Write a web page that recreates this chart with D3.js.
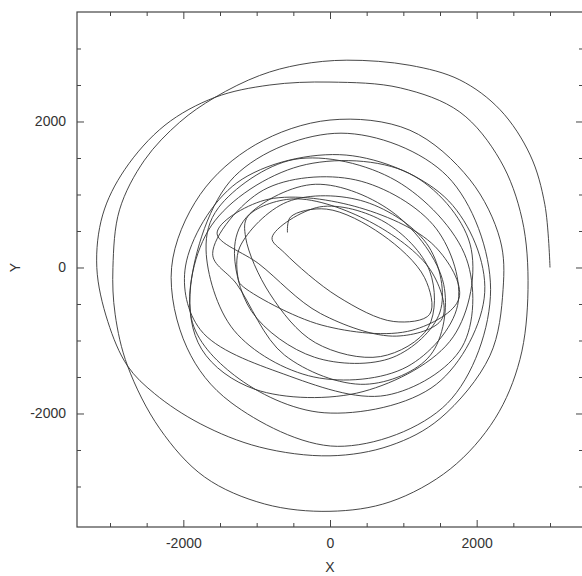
<!DOCTYPE html>
<html>
<head>
<meta charset="utf-8">
<script src="https://cdn.jsdelivr.net/npm/d3@7/dist/d3.min.js"></script>
<style>
  body { margin: 0; background: #fff; }
  svg { display: block; font-family: "Liberation Sans", Arial, sans-serif; }
</style>
</head>
<body>
<div id="chart"></div>
<script>
// orbit positions, in order along the path (inner loops first, ends at x=3000)
const orbitX = [
  -580, -540, -50, 710, 1290, 1360, 870, 110, -620,
  -790, -140, 750, 1360, 1340, 690, -200, -820,
  -1150, -1120, -500, 540, 1380, 1530, 910, -130, -970,
  -1540, -900, 330, 1430, 1760, 1120, -110, -1210,
  -1250, -1230, -580, 480, 1350, 1500, 860, -210, -1070,
  -1300, -1100, -200, 890, 1550, 1370, 480, -620, -1270,
  -1600, -910, 350, 1450, 1740, 1050, -220, -1310,
  -1690, -1520, -490, 900, 1860, 1800, 770, -630, -1770,
  -1970, -1270, 220, 1620, 2110, 1450, -80, -1300,
  -1890, -1620, -410, 1080, 1910, 1680, 450, -1020,
  -1750, -1900, -1300, 150, 1600, 2190, 1600, 100, -1350,
  -1950, -2160, -1770, -1020, 0, 1090, 1910, 2320, 2360, 2180, 1500, 820, 0,
  -960, -1770, -2390, -2760, -3030, -3180,
  -3100, -2800, -2250, -1570, -820, 0, 960, 1770, 2320, 2620, 2700, 2590, 2250, 1640, 820, 0,
  -890, -1710, -2320, -2760, -2930, -2960,
  -2870, -2530, -2050, -1570, -960, -410, 230, 1090, 1770, 2320, 2730, 2930, 3000
];
const orbitY = [
  480, 690, 800, 450, -140, -640, -740, -400, 200,
  410, 830, 620, -50, -820, -1220, -1030, -360,
  410, 700, 940, 630, -50, -700, -940, -630, 50,
  470, 920, 840, 290, -420, -860, -790, -240,
  -160, 280, 900, 900, 280, -610, -1230, -1230, -600,
  290, 730, 1140, 730, -230, -1200, -1600, -1200, -230,
  190, 1060, 1200, 530, -520, -1360, -1500, -860,
  240, 820, 1480, 1190, 120, -1090, -1750, -1460, -850,
  20, 1160, 1540, 910, -340, -1600, -1990, -1480,
  -700, 570, 1390, 1290, 320, -950, -1700, -1670,
  -1120, -250, 1250, 1840, 1250, -300, -1860, -2450, -1850,
  -1100, 0, 1000, 1680, 2020, 1880, 1200, 380, -300, -1210, -2070, -2440, -2580,
  -2460, -2140, -1730, -1350, -740, 0,
  720, 1340, 1950, 2330, 2500, 2540, 2460, 2130, 1470, 660, -300, -1260, -2070, -2760, -3210, -3340,
  -3240, -2870, -2210, -1350, -640, 0,
  790, 1470, 1990, 2330, 2630, 2780, 2840, 2770, 2570, 2160, 1540, 860, 0
];

const labelTicks = [-2000, 0, 2000];
const minorTicks = [-3000, -2500, -1500, -1000, -500, 500, 1000, 1500, 2500, 3000];

const xLabel = 'X';
const yLabel = 'Y';

const width = 582, height = 576;
const frame = { left: 77, right: 583, top: 12, bottom: 527 };

const svg = d3.select('#chart').append('svg')
  .attr('width', width)
  .attr('height', height);

const x = d3.scaleLinear()
  .domain([-3450, 3450])
  .range([frame.left, frame.right]);

const y = d3.scaleLinear()
  .domain([-3555, 3500])
  .range([frame.bottom, frame.top]);

// axes: ticks point into the box on all four sides
function addAxis(axisFn, transform, values, size, labels) {
  const g = svg.append('g')
    .attr('transform', transform)
    .call(axisFn
      .tickValues(values)
      .tickSize(-size)
      .tickSizeOuter(0)
      .tickPadding(axisFn === d3.axisLeft ? 9 : 11)
      .tickFormat(labels ? d => String(d) : ''));
  g.select('.domain').remove();
  g.selectAll('line').attr('stroke', '#444').attr('stroke-width', 1);
  g.selectAll('text')
    .attr('fill', '#333')
    .style('font-size', '14px')
    .style('font-family', '"Liberation Sans", Arial, sans-serif');
  return g;
}

addAxis(d3.axisBottom(x), `translate(0,${frame.bottom})`, labelTicks, 7, true);
addAxis(d3.axisBottom(x), `translate(0,${frame.bottom})`, minorTicks, 4, false);
addAxis(d3.axisTop(x), `translate(0,${frame.top})`, labelTicks, 7, false);
addAxis(d3.axisTop(x), `translate(0,${frame.top})`, minorTicks, 4, false);
addAxis(d3.axisLeft(y), `translate(${frame.left},0)`, labelTicks, 7, true);
addAxis(d3.axisLeft(y), `translate(${frame.left},0)`, minorTicks, 4, false);
addAxis(d3.axisRight(y), `translate(${frame.right},0)`, labelTicks, 7, false);
addAxis(d3.axisRight(y), `translate(${frame.right},0)`, minorTicks, 4, false);

svg.append('rect')
  .attr('x', frame.left)
  .attr('y', frame.top)
  .attr('width', frame.right - frame.left)
  .attr('height', frame.bottom - frame.top)
  .attr('fill', 'none')
  .attr('stroke', '#444')
  .attr('stroke-width', 1.2);

// the orbit
const orbit = orbitX.map((d, i) => [d, orbitY[i]]);

const line = d3.line()
  .x(d => x(d[0]))
  .y(d => y(d[1]))
  .curve(d3.curveCatmullRom.alpha(0.5));

svg.append('path')
  .datum(orbit)
  .attr('d', line)
  .attr('fill', 'none')
  .attr('stroke', '#333')
  .attr('stroke-width', 0.9);

// axis titles
svg.append('text')
  .attr('x', x(0))
  .attr('y', 572)
  .attr('text-anchor', 'middle')
  .attr('fill', '#333')
  .style('font-size', '14px')
  .text(xLabel);

svg.append('text')
  .attr('transform', `translate(20,${y(0)}) rotate(-90)`)
  .attr('text-anchor', 'middle')
  .attr('fill', '#333')
  .style('font-size', '14px')
  .text(yLabel);
</script>
</body>
</html>
